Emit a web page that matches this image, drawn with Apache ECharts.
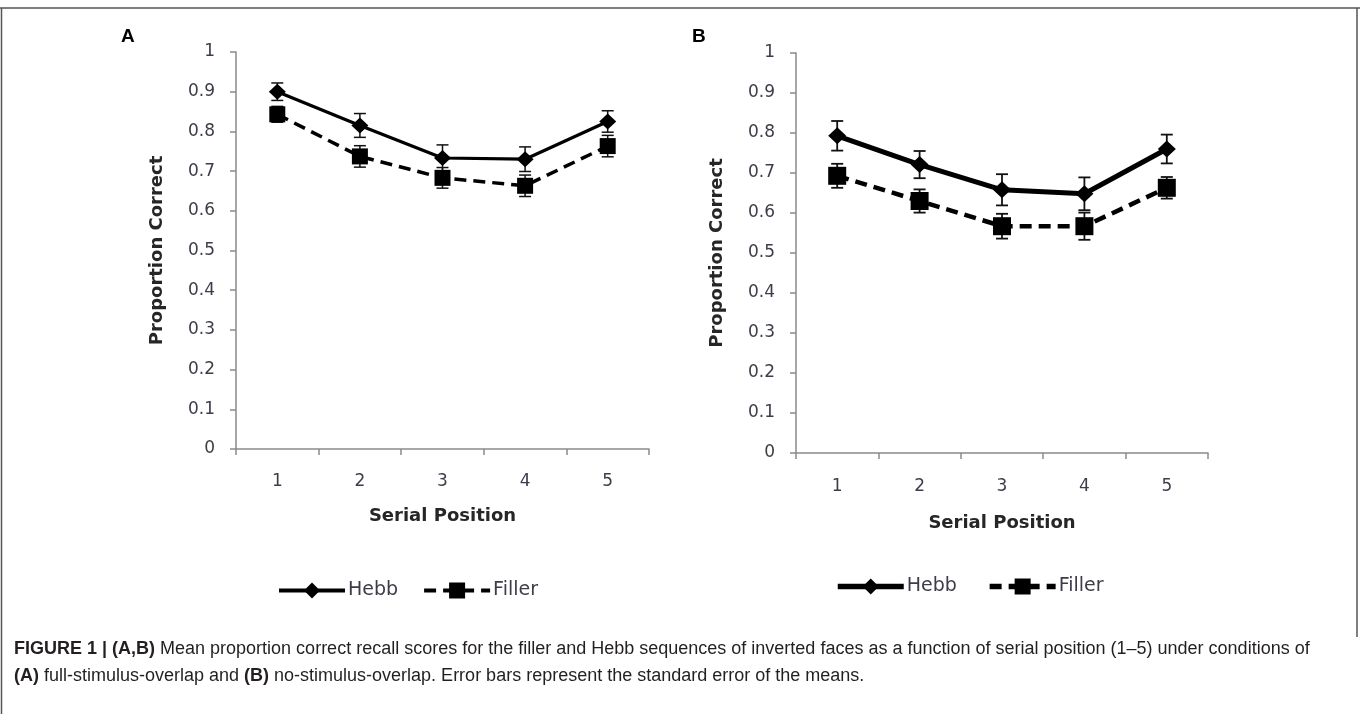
<!DOCTYPE html>
<html>
<head>
<meta charset="utf-8">
<script src="https://cdn.jsdelivr.net/npm/echarts@6/dist/echarts.min.js"></script>
<style>
html,body{margin:0;padding:0;background:#fff;}
#chart{width:1360px;height:714px;}
</style>
</head>
<body>
<div id="chart"></div>
<script>
var categories = ['1', '2', '3', '4', '5'];
var hebbA = [0.900, 0.815, 0.733, 0.730, 0.825];
var fillerA = [0.843, 0.737, 0.683, 0.663, 0.763];
var hebbA_se = [0.022, 0.030, 0.033, 0.031, 0.027];
var fillerA_se = [0.020, 0.027, 0.026, 0.027, 0.027];
var hebbB = [0.793, 0.721, 0.658, 0.648, 0.760];
var fillerB = [0.693, 0.630, 0.567, 0.567, 0.663];
var hebbB_se = [0.037, 0.034, 0.039, 0.041, 0.036];
var fillerB_se = [0.030, 0.029, 0.031, 0.034, 0.027];
var yTicks = {min: 0, max: 1, interval: 0.1};
var seriesNames = ['Hebb', 'Filler'];
var panelLabels = ['A', 'B'];
var axisNames = {x: 'Serial Position', y: 'Proportion Correct'};
var captionBold = 'FIGURE 1 | (A,B)';
var captionLine1 = ' Mean proportion correct recall scores for the filler and Hebb sequences of inverted faces as a function of serial position (1–5) under conditions of';
var captionLine2a = '(A)';
var captionLine2b = ' full-stimulus-overlap and ';
var captionLine2c = '(B)';
var captionLine2d = ' no-stimulus-overlap. Error bars represent the standard error of the means.';

var chart = echarts.init(document.getElementById('chart'));
var FONT = 'DejaVu Sans';
var axisColor = '#8a8a8a';
var labelColor = '#3d3d4a';

function errData(vals, se) {
  return vals.map(function (v, i) { return [i, v, se[i]]; });
}
function errorSeries(idx, vals, se, lw) {
  return {
    type: 'custom',
    xAxisIndex: idx, yAxisIndex: idx,
    data: errData(vals, se),
    encode: {x: 0, y: 1},
    z: 1,
    silent: true,
    renderItem: function (params, api) {
      var x = api.value(0), v = api.value(1), s = api.value(2);
      var top = api.coord([x, v + s]);
      var bot = api.coord([x, v - s]);
      var hw = 6;
      var st = {stroke: '#111', lineWidth: lw};
      return {
        type: 'group',
        children: [
          {type: 'line', shape: {x1: top[0], y1: top[1], x2: bot[0], y2: bot[1]}, style: st},
          {type: 'line', shape: {x1: top[0] - hw, y1: top[1], x2: top[0] + hw, y2: top[1]}, style: st},
          {type: 'line', shape: {x1: bot[0] - hw, y1: bot[1], x2: bot[0] + hw, y2: bot[1]}, style: st}
        ]
      };
    }
  };
}
function lineSeries(idx, name, vals, symbol, size, lw, dashed) {
  return {
    type: 'line', name: name,
    xAxisIndex: idx, yAxisIndex: idx,
    data: vals,
    symbol: symbol, symbolSize: size,
    showAllSymbol: true,
    itemStyle: {color: '#000'},
    lineStyle: {color: '#000', width: lw, type: dashed ? [12, 7] : 'solid'},
    z: 3,
    animation: false
  };
}
function xAxis(idx, gap, margin) {
  return {
    type: 'category', gridIndex: idx, data: categories,
    boundaryGap: true,
    name: axisNames.x, nameLocation: 'middle', nameGap: gap,
    nameTextStyle: {fontFamily: FONT, fontWeight: 'bold', fontSize: 18, color: '#262626'},
    axisLine: {lineStyle: {color: axisColor, width: 1.5}},
    axisTick: {show: true, length: 6, lineStyle: {color: axisColor, width: 1.5}},
    axisLabel: {fontFamily: FONT, fontSize: 17, color: labelColor, margin: margin},
    splitLine: {show: false}
  };
}
function yAxis(idx, gap) {
  return {
    type: 'value', gridIndex: idx,
    min: yTicks.min, max: yTicks.max, interval: yTicks.interval,
    name: axisNames.y, nameLocation: 'middle', nameGap: gap, nameRotate: 90,
    nameTextStyle: {fontFamily: FONT, fontWeight: 'bold', fontSize: 18, color: '#262626'},
    axisLine: {show: true, lineStyle: {color: axisColor, width: 1.5}},
    axisTick: {show: true, length: 6, lineStyle: {color: axisColor, width: 1.5}},
    axisLabel: {fontFamily: FONT, fontSize: 17, color: labelColor, margin: 21},
    splitLine: {show: false}
  };
}
function legend(left, top, suffix, lw) {
  return {
    left: left, top: top, itemWidth: 66, itemHeight: 20, itemGap: 24,
    data: [{name: seriesNames[0] + suffix}, {name: seriesNames[1] + suffix}],
    lineStyle: {width: lw},
    textStyle: {fontFamily: FONT, fontSize: 19, color: '#3d3d4a', padding: [0, 0, 0, -2]},
    selectedMode: false
  };
}

var capFont = 18;
var option = {
  backgroundColor: '#fff',
  animation: false,
  grid: [
    {left: 236, top: 52, width: 413, height: 397},
    {left: 796, top: 53, width: 412, height: 400}
  ],
  xAxis: [xAxis(0, 58, 24), xAxis(1, 61, 25)],
  yAxis: [yAxis(0, 70), yAxis(1, 70)],
  legend: [legend(272, 576, '', 4), legend(830, 572, ' ', 5.5)],
  series: [
    errorSeries(0, hebbA, hebbA_se, 1.5),
    errorSeries(0, fillerA, fillerA_se, 1.5),
    errorSeries(1, hebbB, hebbB_se, 1.8),
    errorSeries(1, fillerB, fillerB_se, 1.8),
    lineSeries(0, seriesNames[0], hebbA, 'diamond', [17, 16], 3.2, false),
    lineSeries(0, seriesNames[1], fillerA, 'rect', [16, 16], 3.5, true),
    lineSeries(1, seriesNames[0] + ' ', hebbB, 'diamond', [18, 17], 5, false),
    lineSeries(1, seriesNames[1] + ' ', fillerB, 'rect', [18, 18], 4.5, true)
  ],
  graphic: [
    {type: 'line', shape: {x1: 0, y1: 8, x2: 1360, y2: 8}, style: {stroke: '#555', lineWidth: 1.5}},
    {type: 'line', shape: {x1: 1.5, y1: 8, x2: 1.5, y2: 714}, style: {stroke: '#555', lineWidth: 1.5}},
    {type: 'line', shape: {x1: 1357, y1: 8, x2: 1357, y2: 637}, style: {stroke: '#555', lineWidth: 1.5}},
    {type: 'text', left: 121, top: 27, style: {text: panelLabels[0], font: 'bold 19px "Liberation Sans"', fill: '#000'}},
    {type: 'text', left: 692, top: 27, style: {text: panelLabels[1], font: 'bold 19px "Liberation Sans"', fill: '#000'}},
    {type: 'text', left: 14, top: 640, style: {
      text: '{b|' + captionBold + '}' + captionLine1,
      font: capFont + 'px "Liberation Sans"', fill: '#231f20',
      rich: {b: {fontWeight: 'bold', fontSize: capFont, fontFamily: 'Liberation Sans', fill: '#231f20'}}
    }},
    {type: 'text', left: 14, top: 667, style: {
      text: '{b|' + captionLine2a + '}' + captionLine2b + '{b|' + captionLine2c + '}' + captionLine2d,
      font: capFont + 'px "Liberation Sans"', fill: '#231f20',
      rich: {b: {fontWeight: 'bold', fontSize: capFont, fontFamily: 'Liberation Sans', fill: '#231f20'}}
    }}
  ]
};
chart.setOption(option);
</script>
</body>
</html>
